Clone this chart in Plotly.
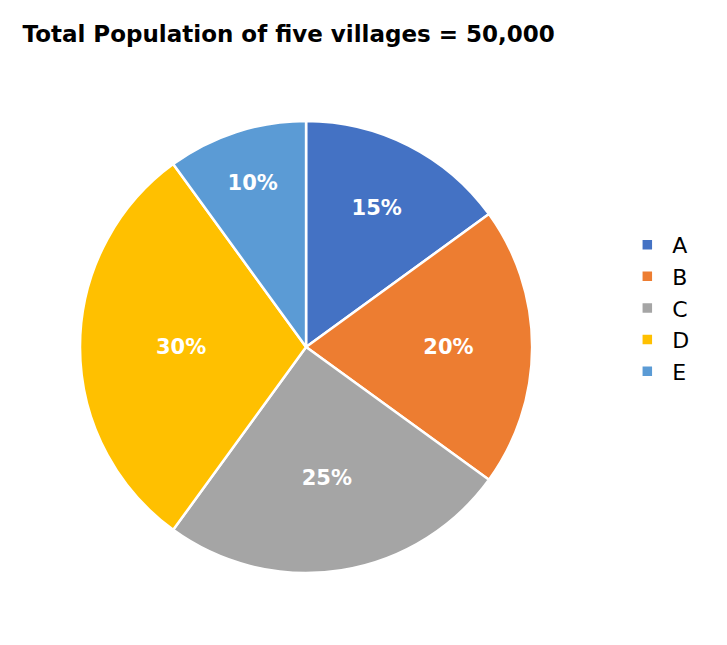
import plotly.graph_objects as go

villages = ["A", "B", "C", "D", "E"]
shares = [15, 20, 25, 30, 10]
colors = ["#4472C4", "#ED7D31", "#A5A5A5", "#FFC000", "#5B9BD5"]

fig = go.Figure(go.Pie(
    labels=villages, values=shares, sort=False, direction="clockwise", rotation=0,
    marker=dict(colors=colors, line=dict(color="white", width=2.5)),
    texttemplate="<b>%{value}%</b>", textposition="inside", insidetextorientation="horizontal",
    textfont=dict(color="white", size=21, family="DejaVu Sans"),
    domain=dict(x=[0.099, 0.721], y=[0.124, 0.825]),
    hoverinfo="label+percent",
))

fig.update_layout(
    width=727, height=645, margin=dict(l=0, r=0, t=0, b=0),
    paper_bgcolor="white", font=dict(family="DejaVu Sans", color="black"),
    title=dict(text="<b>Total Population of five villages = 50,000</b>", x=0.02, xanchor="left",
               y=0.96, yanchor="middle", font=dict(size=23)),
    legend=dict(x=0.845, y=0.535, xanchor="left", yanchor="middle", font=dict(size=22),
                itemwidth=40, tracegroupgap=0),
)

fig.write_html("out.html")
